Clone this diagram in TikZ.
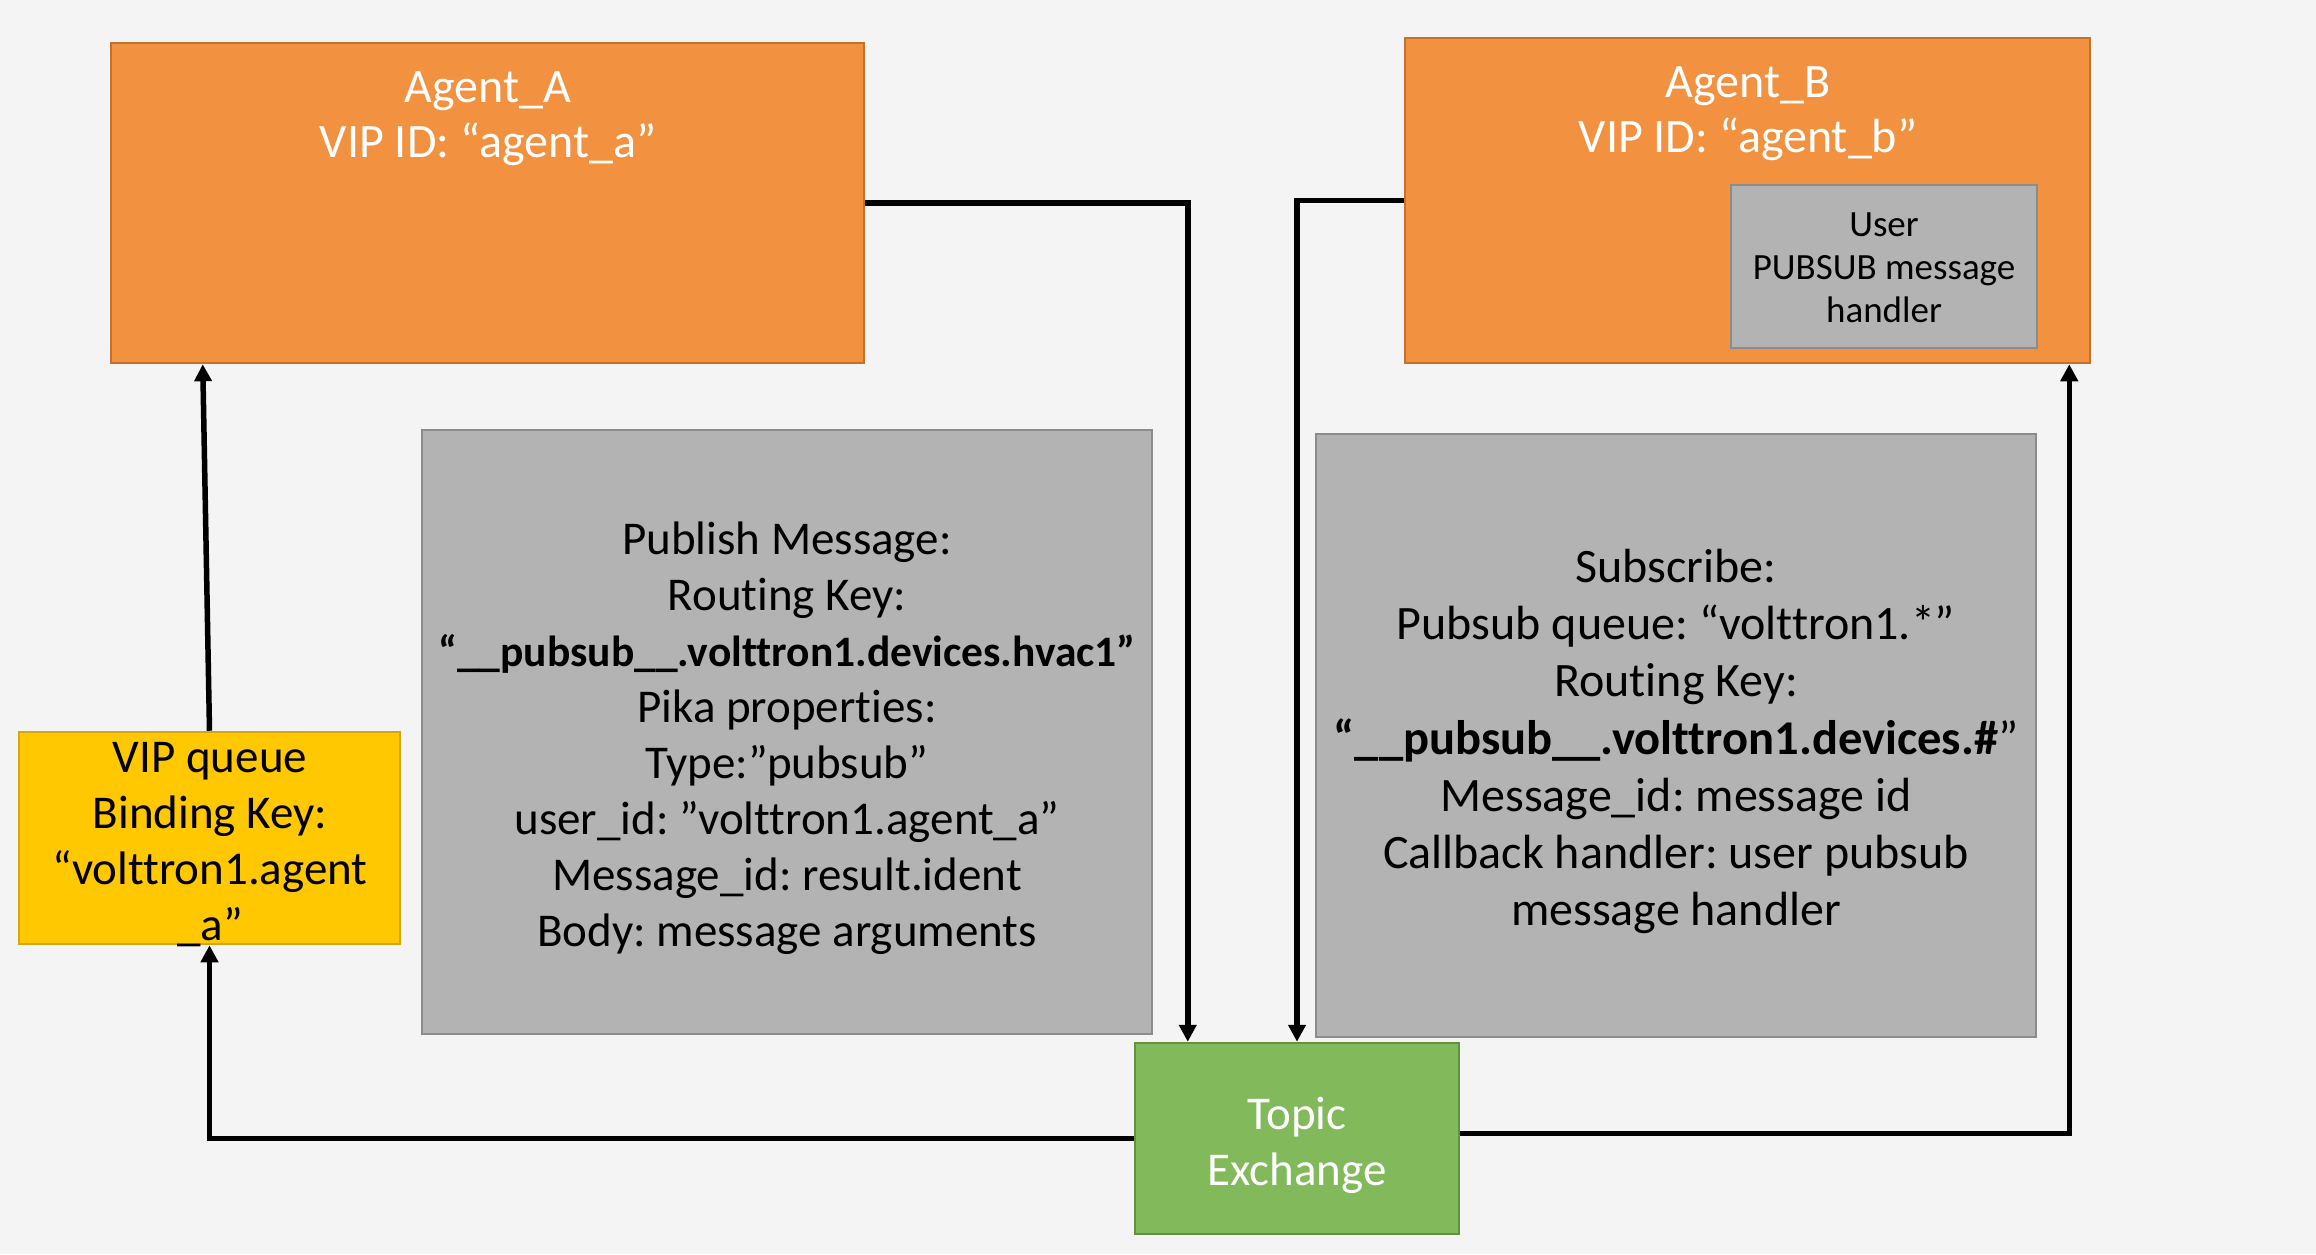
\documentclass[tikz,border=0pt]{standalone}
\usepackage{fontspec}
\setmainfont{Carlito}[Ligatures=NoCommon]
\usetikzlibrary{arrows.meta}

\definecolor{canvas}{RGB}{244,244,244}
\definecolor{agentfill}{RGB}{242,146,64}
\definecolor{agentedge}{RGB}{196,113,44}
\definecolor{notefill}{RGB}{179,179,179}
\definecolor{noteedge}{RGB}{140,140,140}
\definecolor{queuefill}{RGB}{255,200,0}
\definecolor{queueedge}{RGB}{212,166,20}
\definecolor{exchfill}{RGB}{130,185,91}
\definecolor{exchedge}{RGB}{98,145,64}

\tikzset{
  block/.style={rectangle, inner sep=0pt, line width=2.5bp},
  agentbox/.style={block, fill=agentfill, draw=agentedge},
  notebox/.style={block, fill=notefill, draw=noteedge},
  queuebox/.style={block, fill=queuefill, draw=queueedge},
  exchbox/.style={block, fill=exchfill, draw=exchedge},
  bigtext/.style={inner sep=0pt, align=center, font=\fontsize{47bp}{56bp}\selectfont},
  titletext/.style={inner sep=0pt, align=center, text=white, font=\fontsize{48bp}{55bp}\selectfont},
  subtext/.style={inner sep=0pt, align=center, font=\fontsize{48bp}{57.3bp}\selectfont},
  smalltext/.style={inner sep=0pt, align=center, font=\fontsize{37bp}{43bp}\selectfont},
  link/.style={line width=5.5bp, -{Triangle[length=17bp,width=17bp]}},
}

\frenchspacing
\begin{document}
\begin{tikzpicture}[x=1bp, y=-1bp]
  % canvas
  \fill[canvas] (0,0) rectangle (2316,1254);
  \useasboundingbox (0,0) rectangle (2316,1254);

  % agents
  \node[agentbox, minimum width=753bp, minimum height=320bp] (agentA) at (487.5,203) {};
  \node[titletext] (agentAtitle) at (488,119) {Agent\_A\\VIP ID: “agent\_a”};

  \node[agentbox, minimum width=685bp, minimum height=325bp] (agentB) at (1747.5,200.5) {};
  \node[titletext] (agentBtitle) at (1748,114) {Agent\_B\\VIP ID: “agent\_b”};

  \node[notebox, minimum width=306bp, minimum height=163bp] (handler) at (1884,266.5) {};
  \node[smalltext] (handlertext) at (1884,268) {User\\PUBSUB message\\handler};

  % message descriptions
  \node[notebox, minimum width=730bp, minimum height=604bp] (publish) at (787,732) {};
  \node[bigtext] (publishtext) at (787,738) {Publish Message:\\Routing Key:\\
    {\fontsize{43.5bp}{56bp}\selectfont\bfseries “\_\_pubsub\_\_.volttron1.devices.hvac1”}\\
    Pika properties:\\Type:”pubsub”\\user\_id: ”volttron1.agent\_a”\\
    Message\_id: result.ident\\Body: message arguments};

  \node[notebox, minimum width=720bp, minimum height=603bp] (subscribe) at (1676,735.5) {};
  \node[subtext] (subscribetext) at (1676,741.5) {Subscribe:\\Pubsub queue: “volttron1.*”\\
    Routing Key:\\{\fontsize{48.5bp}{57.3bp}\selectfont\bfseries “\_\_pubsub\_\_.volttron1.devices.\#}”\\
    Message\_id: message id\\Callback handler: user pubsub\\message handler};

  % exchange and queue
  \node[exchbox, minimum width=324bp, minimum height=191bp] (topic) at (1297,1138.5) {};
  \node[bigtext, text=white] (topictext) at (1297,1145) {Topic\\Exchange};

  \node[queuebox, minimum width=381bp, minimum height=212bp] (vip) at (209.5,838) {};
  \node[bigtext] (viptext) at (210,845) {VIP queue\\Binding Key:\\“volttron1.agent\\\_a”};

  % message flow
  \draw[link] (agentA.east) -| ([xshift=54bp]topic.north west);
  \draw[link] (agentB.west) -| (topic.north);
  \draw[link] (topic.west) -| (vip.south);
  \draw[link] ([yshift=5bp]topic.east) -| ([xshift=-22bp]agentB.south east);
  \draw[link] (vip.north) -- ([xshift=93bp]agentA.south west);
\end{tikzpicture}
\end{document}
